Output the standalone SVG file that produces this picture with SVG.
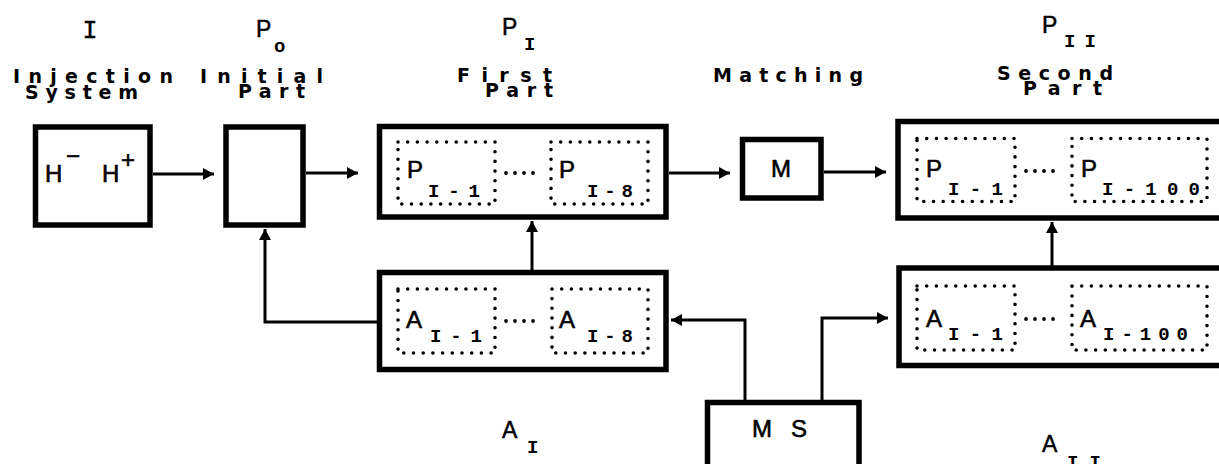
<svg xmlns="http://www.w3.org/2000/svg" width="1219" height="464" viewBox="0 0 1219 464">
<style>
.box{fill:none;stroke:#000;stroke-width:5.5}
.dot{fill:none;stroke:#000;stroke-width:3.6;stroke-linecap:round;stroke-dasharray:0 9.7}
.con{fill:none;stroke:#000;stroke-width:3}
.big{font-family:"Liberation Sans",Arial,sans-serif;font-size:24px;fill:#000;stroke:#000;stroke-width:0.6}
.sub{font-family:"Liberation Mono","Courier New",monospace;font-weight:bold;font-size:19px;fill:#000}
.lbl{font-family:"DejaVu Sans","Liberation Sans",sans-serif;font-weight:bold;font-size:19px;fill:#000}
.hdr{font-family:"Liberation Sans",Arial,sans-serif;font-size:23px;fill:#000;stroke:#000;stroke-width:0.5}
.rom{font-family:"Liberation Mono","Courier New",monospace;font-size:25px;fill:#000;stroke:#000;stroke-width:0.4}
.dots{fill:#000}
</style>
<defs>
<marker id="ah" markerUnits="userSpaceOnUse" markerWidth="12" markerHeight="12" refX="11" refY="6" orient="auto">
<path d="M0,0 L11,6 L0,12 z" fill="#000"/>
</marker>
</defs>

<g id="labels">
<text class="rom" x="90" y="38" text-anchor="middle">I</text>
<text class="hdr" x="256" y="37">P</text>
<text class="sub" x="274" y="52" font-family="Liberation Sans" font-size="16">o</text>
<text class="hdr" x="502" y="35">P</text>
<text class="sub" x="524" y="50">I</text>
<text class="hdr" x="1042" y="33">P</text>
<text class="sub" x="1064" y="47" textLength="32" lengthAdjust="spacing">II</text>
<text class="lbl" x="13" y="83" textLength="160" lengthAdjust="spacing">Injection</text>
<text class="lbl" x="25" y="99" textLength="113" lengthAdjust="spacing">System</text>
<text class="lbl" x="200" y="83" textLength="123" lengthAdjust="spacing">Initial</text>
<text class="lbl" x="238" y="98" textLength="67" lengthAdjust="spacing">Part</text>
<text class="lbl" x="457" y="82" textLength="95" lengthAdjust="spacing">First</text>
<text class="lbl" x="485" y="97" textLength="68" lengthAdjust="spacing">Part</text>
<text class="lbl" x="713" y="82" textLength="150" lengthAdjust="spacing">Matching</text>
<text class="lbl" x="997" y="80" textLength="116" lengthAdjust="spacing">Second</text>
<text class="lbl" x="1023" y="95" textLength="79" lengthAdjust="spacing">Part</text>
<text class="hdr" x="502" y="438">A</text>
<text class="sub" x="527" y="453">I</text>
<text class="hdr" x="1042" y="452">A</text>
<text class="sub" x="1067" y="468" textLength="34" lengthAdjust="spacing">II</text>
</g>

<g id="connectors">
<line class="con" x1="153" y1="174" x2="214" y2="174" marker-end="url(#ah)"/>
<line class="con" x1="306" y1="173" x2="358" y2="173" marker-end="url(#ah)"/>
<line class="con" x1="669" y1="173" x2="730" y2="173" marker-end="url(#ah)"/>
<line class="con" x1="824" y1="172" x2="886" y2="172" marker-end="url(#ah)"/>
<line class="con" x1="532" y1="270" x2="532" y2="221" marker-end="url(#ah)"/>
<polyline class="con" points="377,322 265,322 265,229" marker-end="url(#ah)"/>
<polyline class="con" points="745,401 745,320 671,320" marker-end="url(#ah)"/>
<polyline class="con" points="822,401 822,318 888,318" marker-end="url(#ah)"/>
<line class="con" x1="1052" y1="266" x2="1052" y2="222" marker-end="url(#ah)"/>
</g>

<g id="injection">
<rect class="box" x="35.5" y="127" width="114.5" height="98"/>
<text class="big" x="45" y="182">H</text>
<text class="big" x="66" y="164" font-size="18">−</text>
<text class="big" x="102" y="182">H</text>
<text class="big" x="121" y="168" font-size="17">+</text>
</g>

<g id="initial">
<rect class="box" x="226" y="127" width="77" height="98"/>
</g>

<g id="first-part">
<rect class="box" x="379.5" y="126.5" width="286.5" height="90.5"/>
<rect class="dot" x="398" y="142" width="97" height="62"/>
<rect class="dot" x="551" y="142" width="97" height="62"/>
<g class="dots"><circle cx="506" cy="173" r="1.9"/><circle cx="515" cy="173" r="1.9"/><circle cx="524" cy="173" r="1.9"/><circle cx="533" cy="173" r="1.9"/></g>
<text class="big" x="407" y="178">P</text>
<text class="sub" x="428" y="197" textLength="52" lengthAdjust="spacing">I-1</text>
<text class="big" x="559" y="178">P</text>
<text class="sub" x="587" y="197" textLength="46" lengthAdjust="spacing">I-8</text>
</g>

<g id="matching">
<rect class="box" x="742.5" y="139.5" width="78.5" height="58.5"/>
<text class="big" x="781" y="177" text-anchor="middle">M</text>
</g>

<g id="second-part">
<rect class="box" x="898" y="121.5" width="400" height="96.5"/>
<rect class="dot" x="917" y="138.5" width="98" height="63"/>
<rect class="dot" x="1072" y="138.5" width="135" height="63"/>
<g class="dots"><circle cx="1026" cy="171" r="1.9"/><circle cx="1035" cy="171" r="1.9"/><circle cx="1044" cy="171" r="1.9"/><circle cx="1053" cy="171" r="1.9"/></g>
<text class="big" x="926" y="177">P</text>
<text class="sub" x="948" y="195" textLength="55" lengthAdjust="spacing">I-1</text>
<text class="big" x="1081" y="177">P</text>
<text class="sub" x="1102" y="195" textLength="98" lengthAdjust="spacing">I-100</text>
</g>

<g id="a-first">
<rect class="box" x="379.5" y="272.5" width="286.5" height="97"/>
<rect class="dot" x="398" y="289" width="97" height="64"/>
<rect class="dot" x="552" y="289" width="96" height="64"/>
<g class="dots"><circle cx="506" cy="321" r="1.9"/><circle cx="515" cy="321" r="1.9"/><circle cx="524" cy="321" r="1.9"/><circle cx="533" cy="321" r="1.9"/></g>
<text class="big" x="406" y="328">A</text>
<text class="sub" x="430" y="342" textLength="52" lengthAdjust="spacing">I-1</text>
<text class="big" x="559" y="328">A</text>
<text class="sub" x="587" y="342" textLength="46" lengthAdjust="spacing">I-8</text>
</g>

<g id="a-second">
<rect class="box" x="899" y="268" width="400" height="97.5"/>
<rect class="dot" x="917" y="286" width="98" height="64"/>
<rect class="dot" x="1072" y="286" width="135" height="64"/>
<g class="dots"><circle cx="1026" cy="319" r="1.9"/><circle cx="1035" cy="319" r="1.9"/><circle cx="1044" cy="319" r="1.9"/><circle cx="1053" cy="319" r="1.9"/></g>
<text class="big" x="926" y="327">A</text>
<text class="sub" x="948" y="340" textLength="55" lengthAdjust="spacing">I-1</text>
<text class="big" x="1080" y="327">A</text>
<text class="sub" x="1103" y="340" textLength="85" lengthAdjust="spacing">I-100</text>
</g>

<g id="ms">
<rect class="box" x="707.5" y="402.5" width="151.5" height="80"/>
<text class="big" x="752" y="437" font-size="23">M</text>
<text class="big" x="791" y="437" font-size="23">S</text>
</g>
</svg>
